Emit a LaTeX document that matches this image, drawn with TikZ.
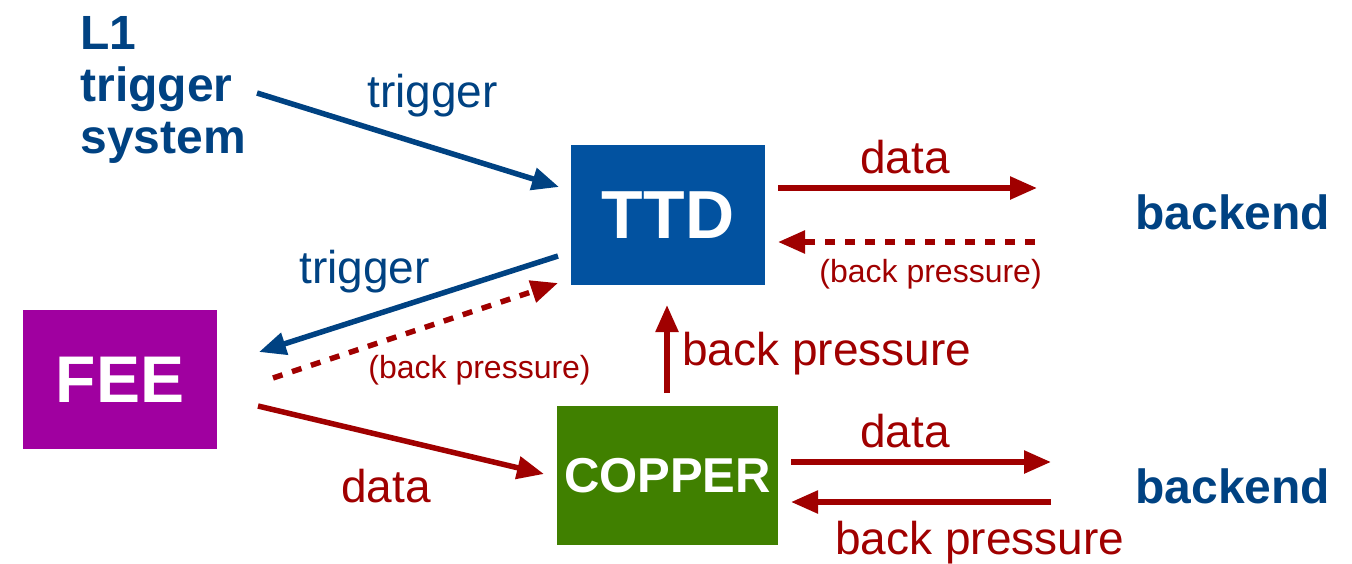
\documentclass[tikz,border=0pt]{standalone}
\usepackage{fontspec}
\setmainfont{Liberation Sans}
\usetikzlibrary{arrows.meta}
\definecolor{dblue}{RGB}{0,66,130}
\definecolor{boxblue}{RGB}{2,82,160}
\definecolor{dred}{RGB}{160,0,0}
\definecolor{feecol}{RGB}{160,0,160}
\definecolor{coppercol}{RGB}{64,128,0}
\tikzset{
  box/.style={draw=none, inner sep=0pt, text=white, font=\bfseries},
  lbl/.style={inner sep=0pt, anchor=base west, font=\fontsize{23}{27}\selectfont},
  smalllbl/.style={inner sep=0pt, anchor=base west, font=\fontsize{16}{19}\selectfont, text=dred},
  bigbold/.style={inner sep=0pt, anchor=base west, font=\bfseries\fontsize{24}{26}\selectfont, text=dblue},
  conn/.style={line width=2.75pt, -{Triangle[length=13.5pt,width=11pt]}},
  bluearrow/.style={conn, draw=dblue},
  redarrow/.style={conn, draw=dred},
  dasharrow/.style={conn, draw=dred, dash pattern=on 5pt off 5pt},
}
\begin{document}
\begin{tikzpicture}[x=0.5pt,y=-0.5pt]
\useasboundingbox (0,0) rectangle (1352,563);

% boxes
\node[box, fill=boxblue, minimum width=97pt, minimum height=70pt, font=\bfseries\fontsize{34}{40}\selectfont] (ttd) at (668,215) {TTD};
\node[box, fill=feecol, minimum width=97pt, minimum height=69.5pt, font=\bfseries\fontsize{33}{40}\selectfont] (fee) at (120,379.5) {FEE};
\node[box, fill=coppercol, minimum width=110.5pt, minimum height=69.5pt, font=\bfseries\fontsize{24.5}{30}\selectfont] (copper) at (667.5,475.5) {COPPER};

% plain texts
\node[inner sep=0pt, anchor=north west, align=left, font=\bfseries\fontsize{24}{26}\selectfont, text=dblue] (l1) at (80,16) {L1\\trigger\\system};
\node[bigbold] (be1) at (1135,229) {backend};
\node[bigbold] (be2) at (1135,503) {backend};

% connector end points
\coordinate (l1s) at (257,93);
\coordinate (ttdin) at (559,187);
\coordinate (ttdtrg) at (558,256);
\coordinate (feetrg) at (259,352);
\coordinate (feebp) at (273,378);
\coordinate (ttdbp) at (558,283);
\coordinate (feedat) at (258,406);
\coordinate (cpin) at (544,474);
\coordinate (ttdd1) at (778,188);
\coordinate (ttdd2) at (1037,188);
\coordinate (ttdb1) at (1035,242);
\coordinate (ttdb2) at (778,242);
\coordinate (cpup) at (667,393);
\coordinate (ttdbot) at (667,305);
\coordinate (cpd1) at (791,462);
\coordinate (cpd2) at (1051,462);
\coordinate (cpb1) at (1051,502);
\coordinate (cpb2) at (791,502);

% connectors
\draw[bluearrow] (l1s) -- (ttdin);
\draw[bluearrow] (ttdtrg) -- (feetrg);
\draw[dasharrow] (feebp) -- (ttdbp);
\draw[redarrow] (feedat) -- (cpin);
\draw[redarrow] (ttdd1) -- (ttdd2);
\draw[dasharrow] (ttdb1) -- (ttdb2);
\draw[redarrow] (cpup) -- (ttdbot);
\draw[redarrow] (cpd1) -- (cpd2);
\draw[redarrow] (cpb1) -- (cpb2);

% labels
\node[lbl, text=dblue] (t1) at (367,107) {trigger};
\node[lbl, text=dblue] (t2) at (299,283) {trigger};
\node[smalllbl] (bp1) at (368,378) {(back pressure)};
\node[lbl, text=dred] (d1) at (341,502) {data};
\node[lbl, text=dred] (d2) at (860,173) {data};
\node[smalllbl] (bp2) at (819,282) {(back pressure)};
\node[lbl, text=dred] (bp3) at (682,365) {back pressure};
\node[lbl, text=dred] (d3) at (860,447) {data};
\node[lbl, text=dred] (bp4) at (835,554) {back pressure};
\end{tikzpicture}
\end{document}
